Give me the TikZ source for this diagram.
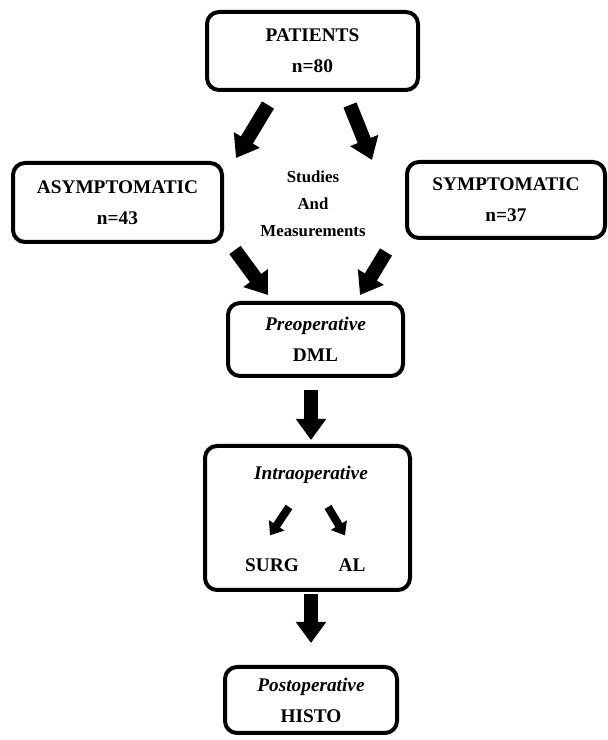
\documentclass[tikz,border=0pt]{standalone}
\usepackage{fontspec}
\setmainfont{Liberation Serif}
\usepackage{tikz}
\usetikzlibrary{arrows.meta,calc,positioning}

\begin{document}
\begin{tikzpicture}[x=1pt,y=1pt,line join=round,
  font=\fontsize{19.3}{31}\selectfont\bfseries,
  box/.style={draw,line width=4pt,rounded corners=12pt,align=center,inner sep=0pt},
  fat/.style={line width=14pt,-{Triangle[width=29pt,length=21pt]}},
  thin/.style={line width=8pt,-{Triangle[width=18pt,length=12pt]}},
  info/.style={align=center,inner sep=1pt}]
\path[use as bounding box] (0,0) rectangle (608,740);
\fill[white] (0,0) rectangle (608,740);
% Kaesten
\node[box,minimum width=211,minimum height=78] (pat) at (312.5,689) {PATIENTS\\n=80};
\node[box,minimum width=209,minimum height=79] (asym) at (117.5,537.5) {ASYMPTOMATIC\\n=43};
\node[box,minimum width=198,minimum height=76] (sym) at (506,540) {SYMPTOMATIC\\n=37};
\node[info,font=\fontsize{16.8}{27}\selectfont\bfseries] (study) at (313,536) {Studies\\And\\Measurements};
\node[box,minimum width=175,minimum height=73] (pre) at (315.5,400.5) {\textit{Preoperative}\\DML};
\node[box,minimum width=205,minimum height=144] (intra) at (307.5,222) {};
\node[info] (intratitle) at (311,265) {\textit{Intraoperative}};
\node[info] (surg) at (272,175) {SURG};
\node[info] (al) at (352,175) {AL};
\node[box,minimum width=172,minimum height=66] (post) at (311,40) {\textit{Postoperative}\\HISTO};
% Pfeile
\draw[fat] ([xshift=-44.5pt,yshift=-13pt]pat.south) -- ([xshift=12pt,yshift=3pt]asym.north east);
\draw[fat] ([xshift=37.5pt,yshift=-13pt]pat.south) -- ([xshift=-33pt]sym.north west);
\draw[fat] ([xshift=11pt,yshift=-6pt]asym.south east) -- ([xshift=42pt,yshift=6pt]pre.north west);
\draw[fat] ([xshift=-19pt,yshift=-12pt]sym.south west) -- ([xshift=-45pt,yshift=6pt]pre.north east);
\draw[fat] ([xshift=-4.5pt,yshift=-12pt]pre.south) -- ([xshift=3.5pt,yshift=4pt]intra.north);
\draw[fat] ([xshift=3.5pt,yshift=-2pt]intra.south) -- ([yshift=22pt]post.north);
\draw[thin] ([xshift=-22pt,yshift=-22pt]intratitle.south) -- ([xshift=-2pt,yshift=22pt]surg.north);
\draw[thin] ([xshift=17pt,yshift=-22pt]intratitle.south) -- ([xshift=-7pt,yshift=22pt]al.north);
\end{tikzpicture}
\end{document}
